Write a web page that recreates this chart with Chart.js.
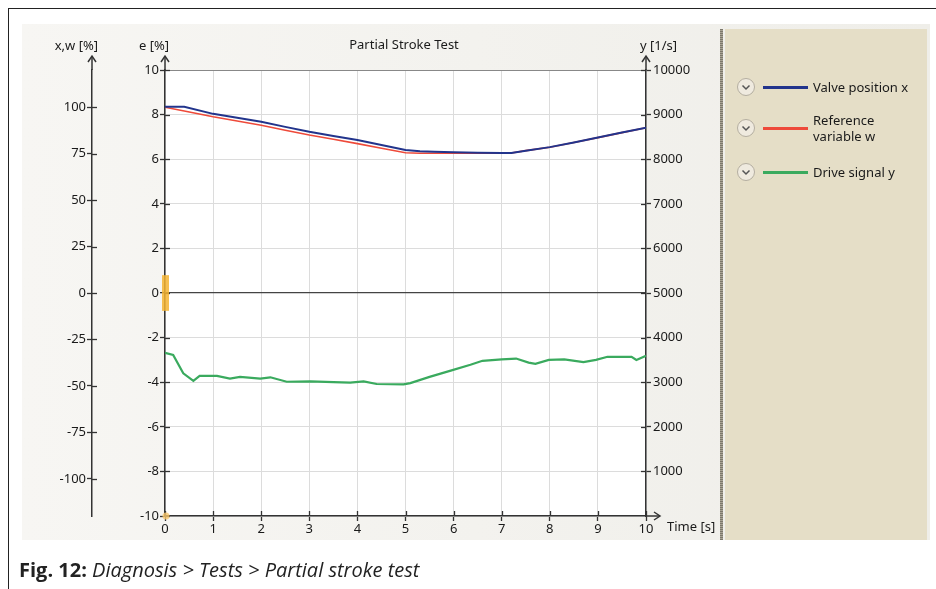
<!DOCTYPE html>
<html><head><meta charset="utf-8">
<script src="https://cdn.jsdelivr.net/npm/chart.js@4.4.1/dist/chart.umd.min.js"></script>
<style>
html,body{margin:0;padding:0;background:#fff;width:936px;height:589px;overflow:hidden;font-family:"Noto Sans",sans-serif;}
#frame{position:absolute;left:8px;top:8px;width:940px;height:600px;border-top:1.5px solid #222;border-left:1.5px solid #222;}
#panel{position:absolute;left:22px;top:24px;width:908px;height:516px;background:linear-gradient(to right,#f7f6f3,#efeee9);}
#tan{position:absolute;left:725px;top:29px;width:202px;height:511px;background:#e5dec7;}
#divider{position:absolute;left:720px;top:29px;width:3px;height:511px;background:repeating-linear-gradient(to bottom,#7d786c 0 1px,#a9a495 1px 2px);}
canvas{position:absolute;left:0;top:0;}
.lbl{position:absolute;font-size:13px;line-height:18px;color:#1a1a1a;white-space:nowrap;}
#legend{position:absolute;left:736px;top:0;}
.item{position:absolute;left:0;width:190px;height:40px;}
.item svg{position:absolute;left:0;}
.item .line{position:absolute;left:27px;width:45px;height:3px;}
.item .txt{position:absolute;left:77px;width:104px;font-size:13px;line-height:16px;color:#1a1a1a;white-space:normal;}
#caption{position:absolute;left:19px;top:556px;font-family:"Open Sans","DejaVu Sans",sans-serif;font-size:20px;line-height:28px;color:#222;white-space:nowrap;}
#caption b{font-weight:700;}
#caption i{font-style:italic;}
</style>
</head><body>
<div id="frame"></div>
<div id="panel"></div>
<div id="tan"></div>
<div id="divider"></div>
<canvas id="c" width="936" height="589"></canvas>
<div class="lbl" style="right:838px;top:36px;">x,w [%]</div>
<div class="lbl" style="right:767px;top:36px;">e [%]</div>
<div class="lbl" style="left:404px;top:35px;transform:translateX(-50%);">Partial Stroke Test</div>
<div class="lbl" style="left:640px;top:36px;">y [1/s]</div>
<div class="lbl" style="left:667px;top:517px;">Time [s]</div>
<div id="legend"></div>
<div id="caption"><b>Fig. 12:</b> <i>Diagnosis &gt; Tests &gt; Partial stroke test</i></div>
<script>
// ---- data ----
const timeXW = [0,0.4,1,1.5,2,2.5,3,3.5,4,4.5,5,5.3,5.6,6,6.5,7,7.2,7.5,8,8.5,9,9.5,10];
const valveX = [100.2,100.2,96.4,94.3,92.1,89.4,86.8,84.5,82.3,79.6,77.0,76.3,76.0,75.8,75.5,75.3,75.3,76.6,78.5,81.0,83.7,86.4,89.0];
const refW   = [100.0,97.9,94.8,92.6,90.3,87.6,85.0,82.7,80.4,77.9,75.5,75.2,75.2,75.2,75.2,75.2,75.3,76.6,78.4,81.0,83.6,86.3,88.9];
const timeY  = [0,0.17,0.38,0.59,0.72,1.08,1.35,1.56,1.98,2.19,2.53,3.02,3.5,3.85,4.13,4.4,4.96,5.1,5.5,5.94,6.35,6.6,7.0,7.3,7.56,7.7,7.98,8.3,8.7,8.96,9.2,9.7,9.8,10];
const driveY = [3660,3610,3200,3030,3140,3140,3080,3120,3080,3110,3010,3020,3000,2990,3020,2960,2950,2980,3120,3260,3390,3480,3510,3530,3440,3410,3500,3510,3450,3500,3570,3570,3500,3590];
const seriesNames = ["Valve position x","Reference variable w","Drive signal y"];
const timeTicks = [0,1,2,3,4,5,6,7,8,9,10];
const eTicks = [-10,-8,-6,-4,-2,0,2,4,6,8,10];
const xwTicks = [-100,-75,-50,-25,0,25,50,75,100];
const yTicks = [1000,2000,3000,4000,5000,6000,7000,8000,9000,10000];
const markerRange = [-0.8, 0.8];

Chart.defaults.font.family = '"Noto Sans", sans-serif';
Chart.defaults.font.size = 13;
Chart.defaults.color = '#1a1a1a';

const AX = '#333';
const pts = (xs, ys) => xs.map((x, i) => ({x, y: ys[i]}));

const decor = {
  id: 'decor',
  beforeDraw(chart) {
    const {ctx, chartArea: a} = chart;
    ctx.save();
    ctx.fillStyle = '#ffffff';
    ctx.fillRect(a.left, a.top, a.right - a.left, a.bottom - a.top);
    ctx.restore();
  },
  afterDraw(chart) {
    const {ctx, chartArea: a, scales} = chart;
    ctx.save();
    ctx.strokeStyle = AX;
    ctx.lineWidth = 1.3;
    // inward halves of tick marks
    const vert = [[scales.xw, 1], [scales.e, 1], [scales.yr, -1]];
    vert.forEach(([s, dir]) => {
      const bx = dir > 0 ? s.right : s.left;
      s.ticks.forEach(t => {
        const py = Math.round(s.getPixelForValue(t.value)) + 0.5;
        ctx.beginPath(); ctx.moveTo(bx, py); ctx.lineTo(bx + dir * 5, py); ctx.stroke();
      });
    });
    const sx = scales.x;
    sx.ticks.forEach(t => {
      const px = Math.round(sx.getPixelForValue(t.value)) + 0.5;
      ctx.beginPath(); ctx.moveTo(px, a.bottom); ctx.lineTo(px, a.bottom - 5); ctx.stroke();
    });
    // axis extensions with arrows
    ctx.lineWidth = 1.5;
    [scales.xw.right, scales.e.right, scales.yr.left].forEach(x => {
      ctx.beginPath(); ctx.moveTo(x, a.top); ctx.lineTo(x, a.top - 14); ctx.stroke();
      ctx.beginPath(); ctx.moveTo(x - 4, a.top - 8); ctx.lineTo(x, a.top - 14); ctx.lineTo(x + 4, a.top - 8); ctx.stroke();
    });
    ctx.beginPath(); ctx.moveTo(a.right, a.bottom); ctx.lineTo(a.right + 14, a.bottom); ctx.stroke();
    ctx.beginPath(); ctx.moveTo(a.right + 8, a.bottom - 4); ctx.lineTo(a.right + 14, a.bottom); ctx.lineTo(a.right + 8, a.bottom + 4); ctx.stroke();
    // orange position marker on e axis
    const se = scales.e;
    const y1 = se.getPixelForValue(markerRange[1]), y2 = se.getPixelForValue(markerRange[0]);
    ctx.fillStyle = 'rgba(245,180,50,0.85)';
    ctx.fillRect(a.left - 3, y1, 7, y2 - y1);
    ctx.fillStyle = 'rgba(250,200,110,0.8)';
    ctx.beginPath(); ctx.arc(a.left + 1, a.bottom, 3.5, 0, Math.PI * 2); ctx.fill();
    ctx.restore();
  }
};

const setTicks = arr => s => { s.ticks = arr.map(v => ({value: v})); };

const chart = new Chart(document.getElementById('c'), {
  type: 'line',
  data: {
    datasets: [
      {label: seriesNames[0], data: pts(timeXW, valveX), yAxisID: 'xw', borderColor: '#22348c', borderWidth: 2},
      {label: seriesNames[1], data: pts(timeXW, refW), yAxisID: 'xw', borderColor: '#ee4a3a', borderWidth: 1.6},
      {label: seriesNames[2], data: pts(timeY, driveY), yAxisID: 'yr', borderColor: '#3aaa5e', borderWidth: 2.2}
    ]
  },
  options: {
    responsive: false,
    animation: false,
    elements: {point: {radius: 0}, line: {tension: 0}},
    layout: {padding: {left: 40, top: 70, right: 230, bottom: 40}},
    plugins: {legend: {display: false}, tooltip: {enabled: false}},
    scales: {
      x: {
        type: 'linear', position: 'bottom', min: 0, max: 10,
        afterBuildTicks: setTicks(timeTicks),
        afterFit: s => { s.height = 33; },
        grid: {color: '#dcdcdc', tickColor: AX, tickLength: 5, tickWidth: 1.3},
        border: {color: AX, width: 1.5},
        ticks: {padding: 0, maxRotation: 0, callback: v => String(v)}
      },
      xw: {
        type: 'linear', position: 'left', weight: 2, min: -120, max: 120,
        afterBuildTicks: setTicks(xwTicks),
        afterFit: s => { s.width = 52; },
        grid: {drawOnChartArea: false, tickColor: AX, tickLength: 5, tickWidth: 1.3},
        border: {color: AX, width: 1.5},
        ticks: {padding: 1, callback: v => String(v)}
      },
      e: {
        type: 'linear', position: 'left', weight: 1, min: -10, max: 10,
        afterBuildTicks: setTicks(eTicks),
        afterFit: s => { s.width = 73; },
        grid: {
          color: c => c.tick && c.tick.value === 0 ? '#444' : (c.tick && c.tick.value === 10 ? '#888' : '#dcdcdc'),
          lineWidth: c => c.tick && c.tick.value === 0 ? 1.3 : 1,
          tickColor: AX, tickLength: 5, tickWidth: 1.3
        },
        border: {color: AX, width: 1.5},
        ticks: {padding: 1, callback: v => String(v)}
      },
      yr: {
        type: 'linear', position: 'right', min: 0, max: 10000,
        afterBuildTicks: setTicks(yTicks),
        afterFit: s => { s.width = 60; },
        grid: {drawOnChartArea: false, tickColor: AX, tickLength: 5, tickWidth: 1.3},
        border: {color: AX, width: 1.5},
        ticks: {padding: 2, callback: v => String(v)}
      }
    }
  },
  plugins: [decor]
});

// HTML legend built from the chart's datasets
const legendTops = [77, 118, 162];
const legend = document.getElementById('legend');
chart.data.datasets.forEach((ds, i) => {
  const it = document.createElement('div');
  it.className = 'item';
  it.style.top = legendTops[i] + 'px';
  const multi = ds.label.length > 17;
  const cy = 10;
  it.innerHTML =
    '<svg width="20" height="20" style="top:' + (cy - 10) + 'px"><circle cx="10" cy="10" r="8.5" fill="#efeadf" stroke="#b3ada0" stroke-width="1"/><polyline points="6.5,8.5 10,12 13.5,8.5" fill="none" stroke="#555" stroke-width="1.5"/></svg>' +
    '<div class="line" style="top:' + (cy - 1.5) + 'px;background:' + ds.borderColor + '"></div>' +
    '<div class="txt" style="top:' + (multi ? cy - 16 : cy - 8) + 'px">' + ds.label + '</div>';
  legend.appendChild(it);
});
</script>
</body></html>
